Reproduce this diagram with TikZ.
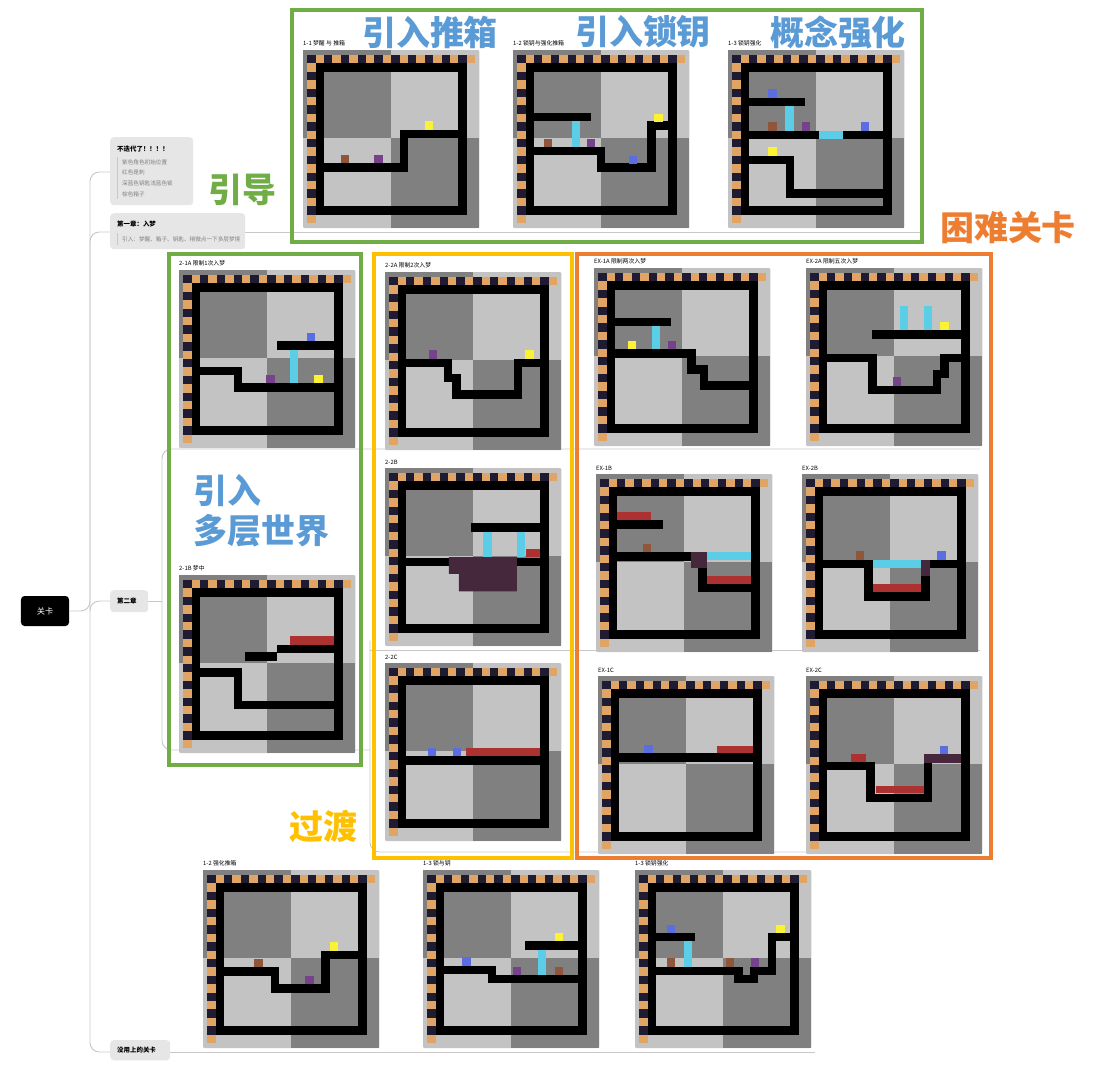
\documentclass[tikz,border=0pt]{standalone}
\usepackage{fontspec}
\setmainfont{Noto Sans CJK SC}
\usetikzlibrary{positioning}

\definecolor{dk}{HTML}{808080}
\definecolor{lt}{HTML}{C3C3C3}
\definecolor{navy}{HTML}{1E1B33}
\definecolor{rul}{HTML}{E0A465}
\definecolor{keyc}{HTML}{5B6EE1}
\definecolor{doorc}{HTML}{5BCDE6}
\definecolor{boxc}{HTML}{8F563B}
\definecolor{heroc}{HTML}{76428A}
\definecolor{goalc}{HTML}{FBF236}
\definecolor{spikec}{HTML}{AC3232}
\definecolor{darkc}{HTML}{45283C}
\definecolor{grn}{HTML}{70AD47}
\definecolor{blu}{HTML}{5B9BD5}
\definecolor{org}{HTML}{ED7D31}
\definecolor{yel}{HTML}{FFC000}
\definecolor{brn}{HTML}{C8C8C8}
\definecolor{notebg}{HTML}{E6E6E6}

\tikzset{
  wall/.style={line width=0.252cm, line cap=rect, line join=miter, black},
  lvllabel/.style={anchor=south west, inner sep=0pt, font=\fontsize{5}{6}\selectfont},
  branch/.style={draw=brn, line width=0.8pt, rounded corners=8pt},
  topic/.style={fill=notebg, rounded corners=3pt, anchor=north west, inner sep=0pt},
  ttl/.style={anchor=west, inner sep=0pt, font=\bfseries\fontsize{5.5}{6.5}\selectfont},
  sub/.style={anchor=west, inner sep=0pt, text=gray, font=\fontsize{4.8}{5.8}\selectfont},
  group/.style={line width=0.12cm},
  big/.style={font=\bfseries\fontsize{29}{34}\selectfont, inner sep=0pt, align=left}
}

% one level thumbnail: name, x, y, label, walls and items
\newcommand{\lvl}[5]{%
  \begin{scope}[shift={(#2,#3)},x=0.252cm,y=-0.252cm]
    \fill[lt,rounded corners=1pt] (0,0) rectangle (21,21.2);
    \fill[dk] (0,0) rectangle (10.5,10.5);
    \fill[dk] (10.5,10.5) rectangle (21,21.2);
    \foreach \i in {0,2,...,18} \fill[navy] (0.5+\i,0.6) rectangle +(1,1);
    \foreach \i in {1,3,...,19} \fill[rul] (0.5+\i,0.6) rectangle +(1,1);
    \foreach \j in {2,4,...,18} \fill[navy] (0.5,0.6+\j) rectangle +(1,1);
    \foreach \j in {1,3,...,19} \fill[rul] (0.5,0.6+\j) rectangle +(1,1);
    \draw[wall] (2,2.1) rectangle (19,19.1);
    #5
    \node[lvllabel] (#1) at (0,-0.4) {#4};
  \end{scope}}
\newcommand{\itm}[3]{\fill[#1] (#2,#3) rectangle +(1,1);}

\begin{document}
\begin{tikzpicture}[x=0.03cm,y=-0.03cm]
\useasboundingbox (0,0) rectangle (1111,1080);

% mind map
\node[fill=black, rounded corners=3pt, minimum width=1.44cm, minimum height=0.9cm,
  text=white, font=\fontsize{7}{8}\selectfont] (root) at (45,611) {关卡};
\node[topic, minimum width=2.49cm, minimum height=2.04cm] (note) at (110,137) {};
\node[topic, minimum width=4.05cm, minimum height=1.08cm] (ch1) at (110,213) {};
\node[topic, minimum width=1.14cm, minimum height=0.66cm] (ch2) at (110,590) {};
\node[topic, minimum width=1.8cm, minimum height=0.6cm] (unused) at (110,1040) {};
\node[ttl] (notet) at (117,149) {不迭代了！！！！};
\node[sub] (n1) at (122,162) {紫色角色初始位置};
\node[sub] (n2) at (122,172) {红色是刺};
\node[sub] (n3) at (122,183) {深蓝色钥匙浅蓝色锁};
\node[sub] (n4) at (122,194) {棕色箱子};
\draw[brn, line width=0.6pt] (117,157) -- (117,199);
\node[ttl] (ch1t) at (117,224) {第一章：入梦};
\node[sub] (ch1s) at (122,239) {引入：梦醒、箱子、钥匙、稍微点一下多层梦境};
\draw[brn, line width=0.6pt] (117,233) -- (117,245);
\node[ttl] (ch2t) at (117,601) {第二章};
\node[ttl] (unusedt) at (117,1050) {没用上的关卡};

\draw[branch] (root.east) -- (90,611) |- (110,172);
\draw[branch] (90,611) |- (110,232);
\draw[branch] (90,611) |- (110,601);
\draw[branch] (90,611) |- (110,1052);
\draw[branch] (245,232) -- (920,232);
\draw[branch] (170,1052) -- (815,1052);
\draw[branch] (148,601) -- (162,601);
\draw[branch] (162,601) |- (980,449);
\draw[branch] (162,601) |- (370,750);
\draw[branch] (370,650) -- (980,650);
\draw[branch] (980,852) -| (370,700) |- (370,650);

% levels, chapter 1
\lvl{l11}{303}{50}{1-1 梦醒 与 推箱}{
  \draw[wall] (2,14) -- (12,14) -- (12,10) -- (19,10);
  \itm{goalc}{14.5}{8.5} \itm{boxc}{4.5}{12.5} \itm{heroc}{8.5}{12.5}}
\lvl{l12}{513}{50}{1-2 锁钥与强化推箱}{
  \draw[wall] (2,8) -- (8.8,8);
  \draw[wall] (2,12) -- (10.5,12) -- (10.5,14) -- (16.5,14) -- (16.5,9) -- (19,9);
  \fill[doorc] (7,8.5) rectangle (8,11.5);
  \itm{boxc}{3.7}{10.6} \itm{heroc}{8.8}{10.6} \itm{keyc}{13.8}{12.6} \itm{goalc}{16.8}{7.6}}
\lvl{l13}{728}{50}{1-3 锁钥强化}{
  \draw[wall] (2,6.2) -- (8.7,6.2);
  \draw[wall] (2,10.1) -- (19,10.1);
  \fill[doorc] (10.8,9.6) rectangle (13.7,10.6);
  \fill[doorc] (6.8,6.7) rectangle (7.8,9.6);
  \draw[wall] (2,13.1) -- (7.4,13.1) -- (7.4,17.1) -- (19,17.1);
  \itm{keyc}{4.8}{4.7} \itm{boxc}{4.8}{8.6} \itm{heroc}{8.8}{8.6} \itm{keyc}{15.8}{8.6}
  \itm{goalc}{4.8}{11.6}}

% chapter 2, row A
\lvl{a21}{179}{270}{2-1A 限制1次入梦}{
  \draw[wall] (12.2,9) -- (19,9);
  \draw[wall] (2,12) -- (7,12) -- (7,14) -- (19,14);
  \fill[doorc] (13.2,9.5) rectangle (14.2,13.5);
  \itm{keyc}{15.2}{7.5} \itm{heroc}{10.4}{12.5} \itm{goalc}{16.1}{12.5}}
\lvl{a22}{385}{272}{2-2A 限制2次入梦}{
  \draw[wall] (2,10.8) -- (7.5,10.8) -- (7.5,12.6) -- (8.5,12.6) -- (8.5,14.6) -- (15.8,14.6) -- (15.8,10.8) -- (19,10.8);
  \itm{heroc}{5.2}{9.3} \itm{goalc}{16.7}{9.3}}
\lvl{ex1a}{594}{268}{EX-1A 限制两次入梦}{
  \draw[wall] (2,6.4) -- (8.7,6.4);
  \draw[wall] (2,10.2) -- (11.6,10.2) -- (11.6,12.1) -- (13.1,12.1) -- (13.1,14) -- (19,14);
  \fill[doorc] (6.9,6.9) rectangle (7.9,9.7);
  \itm{goalc}{4}{8.7} \itm{heroc}{8.8}{8.7}}
\lvl{ex2a}{806}{268}{EX-2A 限制五次入梦}{
  \draw[wall] (8.4,7.9) -- (19,7.9);
  \fill[doorc] (11.2,4.5) rectangle (12.1,7.4);
  \fill[doorc] (14.1,4.5) rectangle (15,7.4);
  \draw[wall] (2,10.7) -- (7.9,10.7) -- (7.9,14.5) -- (15.6,14.5) -- (15.6,12.6) -- (16.5,12.6) -- (16.5,10.7) -- (19,10.7);
  \itm{goalc}{16}{6.4} \itm{heroc}{10.3}{13}}

% row B
\lvl{b22}{385}{468}{2-2B}{
  \draw[wall] (10.7,7.1) -- (19,7.1);
  \fill[doorc] (11.7,7.6) rectangle (12.7,10.6);
  \fill[doorc] (15.7,7.6) rectangle (16.7,10.6);
  \fill[spikec] (16.8,9.7) rectangle (18.5,10.6);
  \draw[wall] (2,11.2) -- (19,11.2);
  \fill[darkc] (7.6,10.6) -- (15.7,10.6) -- (15.7,14.7) -- (8.8,14.7) -- (8.8,12.6) -- (7.6,12.6) -- cycle;}
\lvl{ex1b}{596}{474}{EX-1B}{
  \fill[spikec] (2.5,4.5) rectangle (6.5,5.5);
  \draw[wall] (2,6) -- (7.5,6);
  \draw[wall] (2,9.8) -- (11.3,9.8);
  \draw[wall] (12.7,11.2) -- (12.7,13.6) -- (19,13.6);
  \fill[darkc] (11.3,9.3) rectangle (13.2,11.2);
  \fill[doorc] (13.2,9.3) rectangle (18.5,10.2);
  \fill[spikec] (13.2,12.2) rectangle (18.5,13.1);
  \itm{boxc}{5.6}{8.3}}
\lvl{ex2b}{802}{474}{EX-2B}{
  \draw[wall] (2,10.7) -- (7.9,10.7) -- (7.9,14.6) -- (14.7,14.6) -- (14.7,12.1);
  \draw[wall] (15.2,10.7) -- (19,10.7);
  \fill[doorc] (8.4,10.2) rectangle (14.2,11.2);
  \fill[darkc] (14.2,10.2) rectangle (15.2,12.1);
  \fill[spikec] (8.4,13.1) rectangle (14.2,14.1);
  \itm{boxc}{6.4}{9.2} \itm{keyc}{16.1}{9.2}}

% row C
\lvl{b21}{179}{575}{2-1B 梦中}{
  \fill[spikec] (13.2,7.3) rectangle (18.5,8.3);
  \draw[wall] (12.2,8.8) -- (19,8.8);
  \draw[wall] (8.4,9.7) -- (11.2,9.7);
  \draw[wall] (2,11.6) -- (7,11.6) -- (7,15.5) -- (19,15.5);}
\lvl{c22}{385}{663}{2-2C}{
  \draw[wall] (2,11.6) -- (19,11.6);
  \fill[spikec] (9.6,10.1) rectangle (18.5,11.1);
  \itm{keyc}{5.1}{10.1} \itm{keyc}{8.1}{10.1}}
\lvl{ex1c}{598}{676}{EX-1C}{
  \draw[wall] (2,9.7) -- (19,9.7);
  \fill[spikec] (14.2,8.3) rectangle (18.5,9.2);
  \itm{keyc}{5.5}{8.2}}
\lvl{ex2c}{806}{676}{EX-2C}{
  \draw[wall] (2,10.7) -- (7.7,10.7) -- (7.7,14.5) -- (14.5,14.5) -- (14.5,10.3);
  \fill[spikec] (5.4,9.3) rectangle (7.2,10.2);
  \fill[darkc] (14.1,9.3) rectangle (18.5,10.3);
  \fill[spikec] (8.3,13.1) rectangle (14.1,13.9);
  \itm{keyc}{15.9}{8.3}}

% unused levels
\lvl{u12}{203}{870}{1-2 强化推箱}{
  \draw[wall] (2,12.1) -- (8.6,12.1) -- (8.6,14.1) -- (14.6,14.1) -- (14.6,10.1) -- (19,10.1);
  \itm{boxc}{6.1}{10.6} \itm{heroc}{12.2}{12.6} \itm{goalc}{15.1}{8.6}}
\lvl{u13}{423}{870}{1-3 锁与钥}{
  \draw[wall] (12.7,9) -- (19,9);
  \draw[wall] (2,11.9) -- (8.2,11.9) -- (8.2,13) -- (19,13);
  \fill[doorc] (13.7,9.5) rectangle (14.7,12.5);
  \itm{goalc}{15.7}{7.5} \itm{keyc}{4.7}{10.4} \itm{heroc}{10.7}{11.5} \itm{boxc}{15.7}{11.5}}
\lvl{u13b}{635}{870}{1-3 锁钥强化}{
  \draw[wall] (2,8) -- (6.7,8);
  \draw[wall] (2,12) -- (12.3,12) -- (12.3,13) -- (14.2,13) -- (14.2,12) -- (16.3,12) -- (16.3,8) -- (19,8);
  \fill[doorc] (5.8,8.5) rectangle (6.8,11.5);
  \itm{keyc}{3.8}{6.5} \itm{goalc}{16.8}{6.5} \itm{boxc}{3.8}{10.5} \itm{boxc}{10.8}{10.5} \itm{heroc}{13.8}{10.5}}

% group frames and titles
\draw[group, grn] (292,10) rectangle (922,242);
\draw[group, grn] (169,254) rectangle (361,765);
\draw[group, yel] (374,254) rectangle (572,858);
\draw[group, org] (577,254) rectangle (991,858);
\node[big, text=blu] (t1) at (430,32) {引入推箱};
\node[big, text=blu] (t2) at (643,32) {引入锁钥};
\node[big, text=blu] (t3) at (838,32) {概念强化};
\node[big, text=grn] (t4) at (242,190) {引导};
\node[big, text=org] (t5) at (1008,228) {困难关卡};
\node[big, text=blu, anchor=north west] (t6) at (193,474) {引入\\多层世界};
\node[big, text=yel] (t7) at (323,826) {过渡};
\end{tikzpicture}
\end{document}
